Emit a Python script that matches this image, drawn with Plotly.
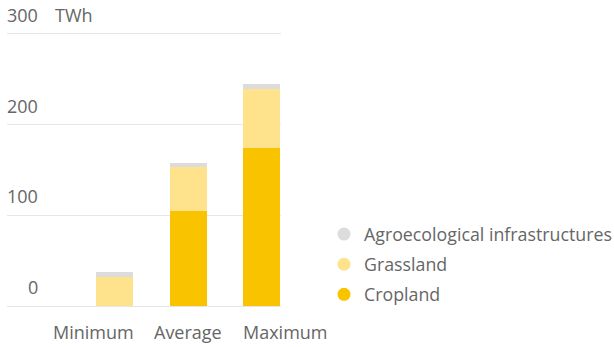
import plotly.graph_objects as go

categories = ["Minimum", "Average", "Maximum"]
cropland = [0, 105, 174]
grassland = [32, 48, 65]
agro = [6, 5, 6]
y_ticks = [0, 100, 200, 300]
unit = "TWh"

series = [
    ("Cropland", cropland, "#FAC300"),
    ("Grassland", grassland, "#FFE38C"),
    ("Agroecological infrastructures", agro, "#DCDCDC"),
]

FONT = "Open Sans"
GREY = "#666666"
FS = 18

fig = go.Figure()
for name, vals, col in series:
    fig.add_trace(go.Bar(x=list(range(len(categories))), y=vals, name=name,
                         marker=dict(color=col, line=dict(width=0)),
                         width=0.505, showlegend=False))
for name, vals, col in reversed(series):
    fig.add_trace(go.Scatter(x=[None], y=[None], mode="markers", name=name,
                             legendgroup=name,
                             marker=dict(color=col, size=13, symbol="circle")))

annotations = []
for t in y_ticks:
    annotations.append(dict(x=0.12, xref="paper", y=t, yref="y", text=str(t),
                            showarrow=False, xanchor="right", yanchor="middle",
                            yshift=19, font=dict(family=FONT, size=FS, color=GREY)))
annotations.append(dict(x=(53 - 7) / 274, xref="paper", y=y_ticks[-1], yref="y",
                        text=unit, showarrow=False, xanchor="left", yanchor="middle",
                        yshift=19, font=dict(family=FONT, size=FS, color=GREY)))
anchors = ["right", "center", "left"]
offs = [0.2525, 0, -0.2525]
shifts = [3, 0, -2]
for i, c in enumerate(categories):
    annotations.append(dict(x=i + offs[i], xref="x", y=0, yref="y", text=c,
                            showarrow=False, xanchor=anchors[i], yanchor="middle",
                            xshift=shifts[i], yshift=-26,
                            font=dict(family=FONT, size=FS, color=GREY)))

fig.update_layout(
    width=614, height=347,
    margin=dict(l=7, r=333, t=32, b=39),
    paper_bgcolor="white", plot_bgcolor="white",
    barmode="stack", bargap=0,
    font=dict(family=FONT, size=FS, color=GREY),
    xaxis=dict(range=[-1.473, 2.266], showgrid=False, zeroline=False,
               showticklabels=False, showline=False, fixedrange=True),
    yaxis=dict(range=[-2, 302], tickvals=y_ticks, showticklabels=False,
               gridcolor="#E6E6E6", gridwidth=1, zeroline=False, showline=False),
    legend=dict(x=324 / 614, xref="container", xanchor="left",
                y=1 - 216 / 347, yref="container", yanchor="top",
                traceorder="grouped", tracegroupgap=4,
                font=dict(family=FONT, size=17.8, color=GREY),
                bgcolor="rgba(0,0,0,0)"),
    annotations=annotations,
    showlegend=True,
)

fig.write_html("out.html")
